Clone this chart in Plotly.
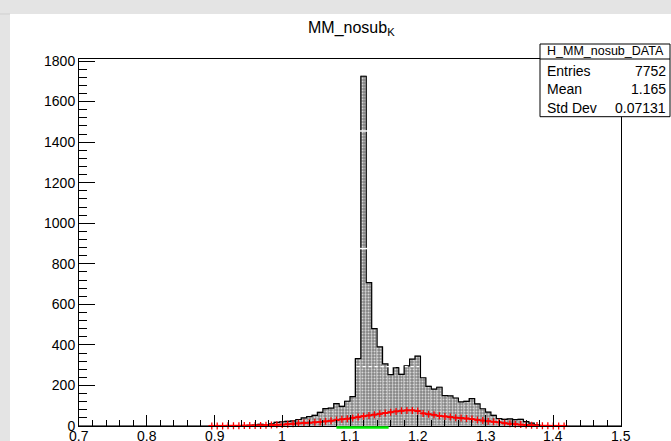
import numpy as np
import plotly.graph_objects as go

# ---------------- data ----------------
bin_start = 0.7
bin_width = 0.008
counts = [0] * 25 + [
    0, 1, 0, 1, 2, 2, 3, 4, 8, 5,            # bins 25-34
    10, 18, 21, 23, 25, 32, 40, 46, 52, 67,  # bins 35-44
    86, 88, 110, 97, 122, 145, 332, 1725, 707, 480,  # bins 45-54
    390, 306, 253, 288, 255, 297, 330, 345, 238, 195,  # bins 55-64
    182, 191, 150, 149, 138, 119, 121, 135, 109, 85,   # bins 65-74
    68, 52, 37, 33, 35, 31, 33, 22, 14, 6,             # bins 75-84
    2, 1,                                              # bins 85-86
] + [0] * 13

red_first_bin = 24
red_vals = [
    0.3, 0.5, 0.5, 1, 1, 1, 2, 2, 3, 3,
    4, 5, 6, 7, 9, 11, 13, 15, 16, 18,
    20, 23, 26, 29, 33, 36, 40, 44, 48, 52,
    56, 60, 64, 68, 72, 75, 77, 77, 74, 62,
    58, 55, 50, 47, 44, 41, 39, 37, 34, 30,
    27, 24, 21, 18, 14, 11, 9, 7, 5, 4,
    2, 1, 1, 0.5, 0.5, 0.3,
]

green_range = [1.080, 1.157]
white_line_x = [1.110, 1.202]
white_line_y = [293, 293]
white_marks_x = [1.12, 1.12]
white_marks_y = [875, 1455]

x_ticks = [0.7, 0.8, 0.9, 1.0, 1.1, 1.2, 1.3, 1.4, 1.5]
x_tick_text = ["0.7", "0.8", "0.9", "1", "1.1", "1.2", "1.3", "1.4", "1.5"]
y_ticks = [0, 200, 400, 600, 800, 1000, 1200, 1400, 1600, 1800]

title_main = "MM_nosub"
title_sub = "K"
stats_name = "H_MM_nosub_DATA"
stats_labels = ["Entries", "Mean", "Std Dev"]
stats_values = ["7752", "1.165", "0.07131"]

# ---------------- derived ----------------
nb = len(counts)
edges = bin_start + bin_width * np.arange(nb + 1)
centers = edges[:-1] + bin_width / 2
red_x = centers[red_first_bin:red_first_bin + len(red_vals)]

FONT = "Liberation Sans, Arial, Helvetica, sans-serif"
W, H = 671, 441
L, R, T, B = 79, 50, 59, 15
PW, PH = W - L - R, H - T - B


def px(x):
    return (x - L) / PW


def py(y):
    return (H - B - y) / PH


fig = go.Figure()

fig.add_trace(go.Bar(
    x=centers, y=counts, width=bin_width,
    marker=dict(
        color="#8a8a8a",
        line=dict(width=0.5, color="#c4c4c4"),
        pattern=dict(shape=".", fillmode="replace", fgcolor="#d8d8d8",
                     bgcolor="#858585", size=3, solidity=0.35),
    ),
    hoverinfo="skip", showlegend=False,
))

fig.add_trace(go.Scatter(
    x=edges, y=list(counts) + [counts[-1]], mode="lines",
    line=dict(color="black", width=1.2, shape="hv"),
    hoverinfo="skip", showlegend=False,
))

fig.add_trace(go.Scatter(
    x=white_line_x, y=white_line_y, mode="lines",
    line=dict(color="white", width=1.2, dash="dot"),
    hoverinfo="skip", showlegend=False,
))
fig.add_trace(go.Scatter(
    x=white_marks_x, y=white_marks_y, mode="markers",
    marker=dict(symbol="line-ew", size=5, line=dict(color="white", width=1.5)),
    hoverinfo="skip", showlegend=False,
))

fig.add_trace(go.Scatter(
    x=red_x, y=red_vals, mode="markers",
    marker=dict(symbol="cross-thin", size=5, color="red",
                line=dict(color="red", width=1.3)),
    error_x=dict(type="constant", value=bin_width / 2, color="red",
                 thickness=2, width=0),
    error_y=dict(type="constant", value=3, color="red", thickness=1.2, width=0),
    hoverinfo="skip", showlegend=False, cliponaxis=False,
))

shapes = [
    dict(type="rect", xref="paper", yref="paper",
         x0=px(10), x1=1.2, y0=-0.2, y1=py(14),
         fillcolor="white", line=dict(width=0), layer="below"),
    dict(type="line", xref="paper", yref="paper",
         x0=px(0), x1=px(10), y0=py(14), y1=py(14),
         line=dict(color="#cfcfcf", width=1), layer="below"),
    # green range marker along the x axis
    dict(type="line", xref="x", yref="paper",
         x0=green_range[0], x1=green_range[1], y0=py(427.5), y1=py(427.5),
         line=dict(color="#00ee00", width=2.5)),
    # stats box
    dict(type="rect", xref="paper", yref="paper",
         x0=px(540), x1=px(670), y0=py(116.7), y1=py(44),
         fillcolor="white", line=dict(color="black", width=1)),
    dict(type="line", xref="paper", yref="paper",
         x0=px(540), x1=px(670), y0=py(59), y1=py(59),
         line=dict(color="black", width=1)),
]

annotations = [
    dict(text=f"{title_main}<sub>{title_sub}</sub>", xref="paper", yref="paper",
         x=px(351), y=py(29), xanchor="center", yanchor="middle",
         showarrow=False, font=dict(family=FONT, size=16, color="black")),
    dict(text=stats_name, xref="paper", yref="paper",
         x=px(605), y=py(51.5), xanchor="center", yanchor="middle",
         showarrow=False, font=dict(family=FONT, size=12.5, color="black")),
]
row_y = [70.7, 89.5, 108]
for lab, val, yy in zip(stats_labels, stats_values, row_y):
    annotations.append(dict(text=lab, xref="paper", yref="paper",
                            x=px(545), y=py(yy), xanchor="left", yanchor="middle",
                            showarrow=False,
                            font=dict(family=FONT, size=14, color="black")))
    annotations.append(dict(text=val, xref="paper", yref="paper",
                            x=px(668), y=py(yy), xanchor="right", yanchor="middle",
                            showarrow=False,
                            font=dict(family=FONT, size=14, color="black")))

# x tick labels placed as annotations so they sit as close to the axis as in the reference
for tv, tt in zip(x_ticks, x_tick_text):
    annotations.append(dict(text=tt, xref="x", yref="paper",
                            x=tv, y=py(435.5), xanchor="center", yanchor="middle",
                            showarrow=False,
                            font=dict(family=FONT, size=14, color="black")))

fig.update_layout(
    width=W, height=H,
    margin=dict(l=L, r=R, t=T, b=B, pad=0, autoexpand=False),
    paper_bgcolor="#e4e4e4",
    plot_bgcolor="white",
    bargap=0,
    shapes=shapes,
    annotations=annotations,
    font=dict(family=FONT, size=14, color="black"),
    xaxis=dict(
        range=[0.7, 1.5], tickvals=x_ticks, ticktext=x_tick_text,
        automargin=False, showticklabels=False,
        ticks="inside", ticklen=11, tickwidth=1, tickcolor="black",
        showline=True, linecolor="black", linewidth=1, mirror=True,
        showgrid=False, zeroline=False,
        minor=dict(ticks="inside", ticklen=6, dtick=0.02, tick0=0.7,
                   tickcolor="black", showgrid=False),
    ),
    yaxis=dict(
        range=[0, 1810], tickvals=y_ticks,
        automargin=False,
        ticks="inside", ticklen=16, tickwidth=1, tickcolor="black",
        showline=True, linecolor="black", linewidth=1, mirror=True,
        showgrid=False, zeroline=False,
        minor=dict(ticks="inside", ticklen=8, dtick=40, tick0=0,
                   tickcolor="black", showgrid=False),
        tickfont=dict(family=FONT, size=14, color="black"),
    ),
)

fig.write_html(
    "out.html",
    config={"displayModeBar": False},
    post_script="document.body.style.margin='0';document.body.style.padding='0';",
)
